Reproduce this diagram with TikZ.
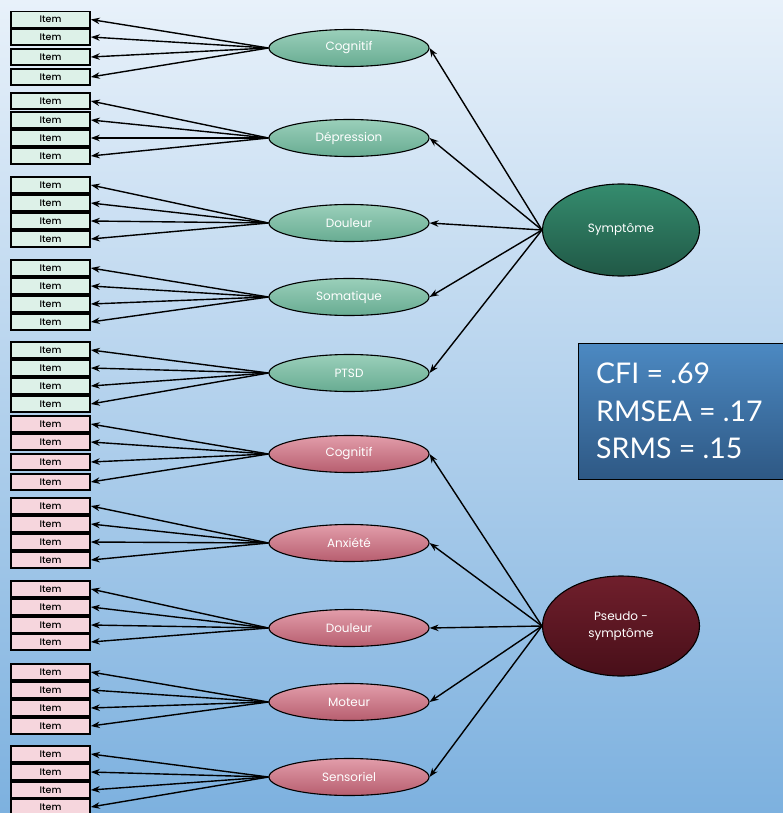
\documentclass[tikz,border=0pt]{standalone}
\usepackage{fontspec}
\setmainfont{Poppins}
\newfontfamily\fitfont{Lato}
\usetikzlibrary{shapes.geometric,arrows.meta}
\definecolor{bgtop}{HTML}{E8F1FA}
\definecolor{bgbot}{HTML}{7DB1DF}
\definecolor{itg}{HTML}{DDF1E8}
\definecolor{itp}{HTML}{F6D6DD}
\definecolor{gtop}{HTML}{9ACFBA}
\definecolor{gbot}{HTML}{68AC92}
\definecolor{ptop}{HTML}{E29DAA}
\definecolor{pbot}{HTML}{B75E6F}
\definecolor{stop}{HTML}{358C6E}
\definecolor{sbot}{HTML}{205846}
\definecolor{pstop}{HTML}{701F2C}
\definecolor{psbot}{HTML}{480F19}
\definecolor{ftop}{HTML}{4C89C2}
\definecolor{fbot}{HTML}{2E5884}
\begin{document}
\begin{tikzpicture}[x=1pt,y=-1pt,
  itembox/.style={draw=black, line width=1.6pt, minimum width=79pt, minimum height=16pt, inner sep=0pt, font=\fontsize{9.5}{10}\selectfont\fontspec{Poppins Medium}},
  itemg/.style={itembox, fill=itg},
  itemp/.style={itembox, fill=itp},
  fact/.style={ellipse, draw=black, line width=1.1pt, minimum width=160pt, minimum height=37pt, inner sep=0pt, text=white, font=\fontsize{12}{14}\selectfont},
  factg/.style={fact, top color=gtop, bottom color=gbot},
  factp/.style={fact, top color=ptop, bottom color=pbot},
  big/.style={ellipse, draw=black, line width=1.1pt, minimum width=157pt, minimum height=92pt, inner sep=0pt, text=white, align=center, font=\fontsize{12}{17}\selectfont},
  arr/.style={-{Stealth[length=9pt,width=6.5pt]}, line width=1.4pt, black}
]
\shade[top color=bgtop, bottom color=bgbot] (0,0) rectangle (783,813);
\useasboundingbox (0,0) rectangle (783,813);

\foreach \g/\ly/\a/\b/\c/\d/\lab/\st/\it in {
  1/48/19.5/37/57/77/Cognitif/factg/itemg,
  2/138/101/120/138/156/Dépression/factg/itemg,
  3/223/185/203/221/239/Douleur/factg/itemg,
  4/297/268/286/304/322/Somatique/factg/itemg,
  5/373/350/368/386/404/PTSD/factg/itemg,
  6/454/424/442/462/482/Cognitif/factp/itemp,
  7/543/506/524/542/560/Anxiété/factp/itemp,
  8/628/589/607/625/642/Douleur/factp/itemp,
  9/702/672/690/708/726/Moteur/factp/itemp,
  10/777/754/772/790/807/Sensoriel/factp/itemp}{
  \node[\st] (f\g) at (349,\ly) {\lab};
  \node[\it] (i\g-1) at (50.5,\a) {Item};
  \node[\it] (i\g-2) at (50.5,\b) {Item};
  \node[\it] (i\g-3) at (50.5,\c) {Item};
  \node[\it] (i\g-4) at (50.5,\d) {Item};
  \foreach \k in {1,2,3,4}{
    \draw[arr] (f\g.west) -- (i\g-\k.east);
  }
}

\node[big, top color=stop, bottom color=sbot] (S) at (621,230) {Symptôme};
\node[big, top color=pstop, bottom color=psbot, minimum height=100pt] (P) at (621,626) {Pseudo -\\symptôme};

\foreach \g in {1,...,5}{\draw[arr] (S.west) -- (f\g.east);}
\foreach \g in {6,...,10}{\draw[arr] (P.west) -- (f\g.east);}

\node[draw=black, line width=1.2pt, top color=ftop, bottom color=fbot, minimum width=215pt, minimum height=136pt, anchor=north west, inner sep=0pt] (fit) at (578,343) {};
\node[anchor=west, align=left, text=white, inner sep=0pt, font=\fitfont\fontsize{28.5}{37.5}\selectfont] (fittxt) at (596,411) {CFI = .69\\RMSEA = .17\\SRMS = .15};
\end{tikzpicture}
\end{document}
